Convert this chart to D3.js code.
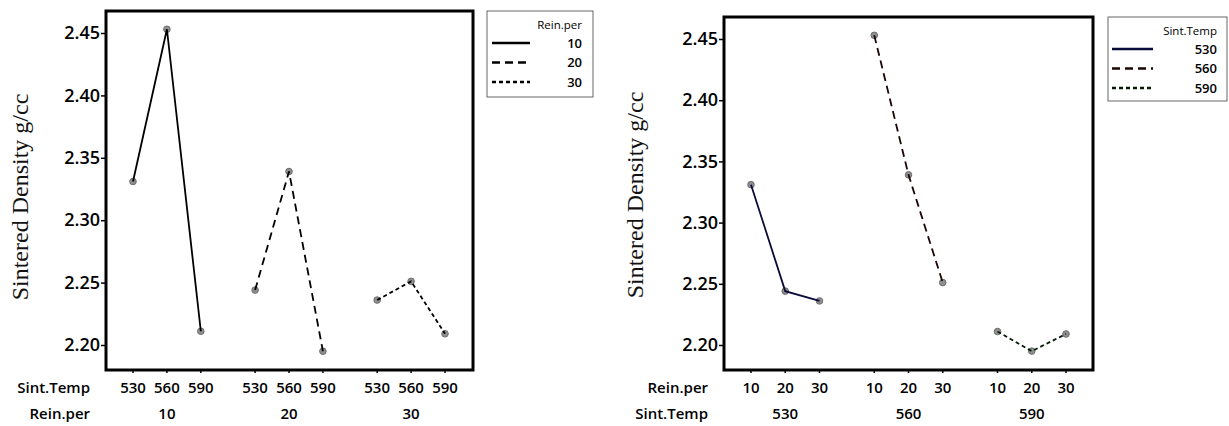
<!DOCTYPE html>
<html>
<head>
<meta charset="utf-8">
<script src="https://cdnjs.cloudflare.com/ajax/libs/d3/7.8.5/d3.min.js"></script>
<style>
  body { margin: 0; background: #fff; }
  .tick text { font-family: "Open Sans", sans-serif; }
</style>
</head>
<body>
<div id="container"><svg></svg></div>
<script>
let width = 1229;
let height = 426;

// density values, rows = Rein.per (10,20,30), cols = Sint.Temp (530,560,590)
let reinLevels = ['10', '20', '30'];
let tempLevels = ['530', '560', '590'];
let density = [
    [2.331, 2.453, 2.211],
    [2.244, 2.339, 2.195],
    [2.236, 2.251, 2.209]
];
let yTicks = [2.20, 2.25, 2.30, 2.35, 2.40, 2.45];
let yTitle = 'Sintered Density g/cc';

let fontFamily = '"Open Sans", sans-serif';
let dashes = ['none', '8,5', '4,3'];

let svg = d3.select('svg')
    .attr('width', width)
    .attr('height', height);

function draw_panel(p) {
    let g = svg.append('g');

    let y = d3.scaleLinear()
        .domain([2.20, 2.45])
        .range([p.y220, p.y245]);
    // index position: group*3.6 + level
    let x = d3.scaleLinear()
        .domain([0, 9.2])
        .range([p.x0, p.x1]);

    // y axis
    let axis_y = d3.axisLeft(y)
        .tickValues(yTicks)
        .tickSize(5)
        .tickFormat(d3.format('.2f'));
    let ay = g.append('g')
        .attr('transform', `translate(${p.left}, 0)`)
        .call(axis_y);
    ay.select('.domain').remove();
    ay.selectAll('line').attr('stroke', '#000').attr('stroke-width', 1.5);
    ay.selectAll('text')
        .attr('font-family', fontFamily)
        .attr('font-size', 18)
        .attr('font-weight', 600)
        .attr('fill', '#000')
        .attr('x', -6);

    // y title
    g.append('text')
        .attr('transform', `translate(${p.titleX}, ${p.titleY}) rotate(-90)`)
        .attr('text-anchor', 'middle')
        .attr('font-family', '"Liberation Serif", "Times New Roman", serif')
        .attr('font-size', 24)
        .attr('fill', '#111')
        .text(yTitle);

    // x tick labels (two rows)
    let inner = p.inner, outer = p.outer;
    for (let gi = 0; gi < 3; gi++) {
        for (let li = 0; li < 3; li++) {
            let xx = x(gi * 3.6 + li);
            g.append('line')
                .attr('x1', xx).attr('x2', xx)
                .attr('y1', p.bottom).attr('y2', p.bottom + 3)
                .attr('stroke', '#000').attr('stroke-width', 1.5);
            g.append('text')
                .attr('x', xx).attr('y', 393)
                .attr('text-anchor', 'middle')
                .attr('font-family', fontFamily)
                .attr('font-size', 15)
                .attr('font-weight', 600)
                .attr('fill', '#000')
                .text(inner[li]);
        }
        g.append('text')
            .attr('x', x(gi * 3.6 + 1)).attr('y', 419)
            .attr('text-anchor', 'middle')
            .attr('font-family', fontFamily)
            .attr('font-size', 15)
            .attr('font-weight', 600)
            .attr('fill', '#000')
            .text(outer[gi]);
    }
    [[p.innerName, 393], [p.outerName, 419]].forEach(r => {
        g.append('text')
            .attr('x', p.rowLabelX).attr('y', r[1])
            .attr('text-anchor', 'end')
            .attr('font-family', fontFamily)
            .attr('font-size', 15)
            .attr('font-weight', 600)
            .attr('fill', '#000')
            .text(r[0]);
    });

    // series
    let line = d3.line().x(d => d.x).y(d => d.y);
    for (let gi = 0; gi < 3; gi++) {
        let pts = [];
        for (let li = 0; li < 3; li++) {
            let v = p.byRein ? density[gi][li] : density[li][gi];
            pts.push({x: x(gi * 3.6 + li), y: y(v)});
        }
        g.selectAll(null)
            .data(pts)
            .enter().append('circle')
            .attr('cx', d => d.x)
            .attr('cy', d => d.y)
            .attr('r', 3.3)
            .attr('fill', '#8f8f8f')
            .attr('stroke', '#6e6e6e')
            .attr('stroke-width', 1);
        g.append('path')
            .datum(pts)
            .attr('d', line)
            .attr('fill', 'none')
            .attr('stroke', p.colors[gi])
            .attr('stroke-width', 1.8)
            .attr('stroke-dasharray', dashes[gi]);
    }

    // frame
    g.append('rect')
        .attr('x', p.left).attr('y', p.top)
        .attr('width', p.right - p.left)
        .attr('height', p.bottom - p.top)
        .attr('fill', 'none')
        .attr('stroke', '#000')
        .attr('stroke-width', 3);

    // legend
    let lg = p.legend;
    g.append('rect')
        .attr('x', lg.x0).attr('y', lg.y0)
        .attr('width', lg.x1 - lg.x0).attr('height', lg.y1 - lg.y0)
        .attr('fill', '#fff')
        .attr('stroke', '#666')
        .attr('stroke-width', 1);
    g.append('text')
        .attr('x', lg.textX).attr('y', lg.y0 + 18)
        .attr('text-anchor', 'end')
        .attr('font-family', fontFamily)
        .attr('font-size', 11.5)
        .attr('fill', '#000')
        .text(lg.title);
    for (let i = 0; i < 3; i++) {
        let yy = lg.y0 + 32 + i * 19.5;
        g.append('line')
            .attr('x1', lg.lx0).attr('x2', lg.lx1)
            .attr('y1', yy).attr('y2', yy)
            .attr('stroke', p.colors[i])
            .attr('stroke-width', 2.3)
            .attr('stroke-dasharray', dashes[i]);
        g.append('text')
            .attr('x', lg.textX).attr('y', yy + 4.5)
            .attr('text-anchor', 'end')
            .attr('font-family', fontFamily)
            .attr('font-size', 13)
            .attr('font-weight', 600)
            .attr('fill', '#000')
            .text(p.outer[i]);
    }
}

draw_panel({
    left: 106, right: 473, top: 11, bottom: 370,
    y220: 345, y245: 33,
    x0: 133, x1: 445,
    titleX: 28, titleY: 197,
    rowLabelX: 90,
    inner: tempLevels, outer: reinLevels,
    innerName: 'Sint.Temp', outerName: 'Rein.per',
    byRein: true,
    colors: ['#000', '#000', '#000'],
    legend: {x0: 487, x1: 593, y0: 11, y1: 97, textX: 582, lx0: 492, lx1: 530, title: 'Rein.per'}
});

draw_panel({
    left: 724, right: 1093, top: 17, bottom: 370,
    y220: 345, y245: 39,
    x0: 751, x1: 1066,
    titleX: 643, titleY: 195,
    rowLabelX: 708,
    inner: reinLevels, outer: tempLevels,
    innerName: 'Rein.per', outerName: 'Sint.Temp',
    byRein: false,
    colors: ['#0b0b3a', '#1a0505', '#051a05'],
    legend: {x0: 1108, x1: 1227, y0: 17, y1: 101, textX: 1217, lx0: 1112, lx1: 1153, title: 'Sint.Temp'}
});
</script>
</body>
</html>
